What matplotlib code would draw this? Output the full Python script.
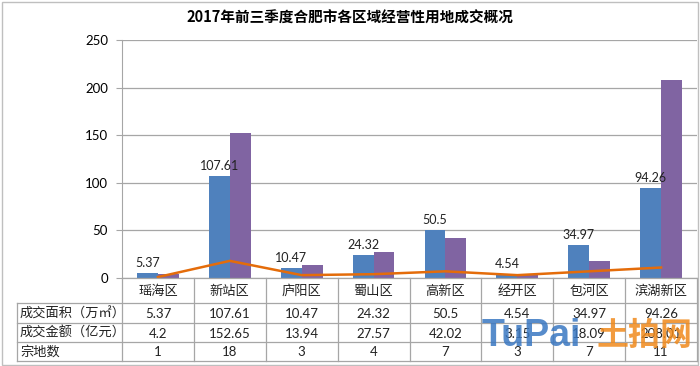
import matplotlib
matplotlib.use('Agg')
from matplotlib import pyplot as plt
from matplotlib.lines import Line2D
import numpy as np

# > chart data
districts = ['瑶海区', '新站区', '庐阳区', '蜀山区', '高新区', '经开区', '包河区', '滨湖新区']
area = [5.37, 107.61, 10.47, 24.32, 50.5, 4.54, 34.97, 94.26]
amount = [4.2, 152.65, 13.94, 27.57, 42.02, 3.15, 18.09, 208.01]
parcels = [1, 18, 3, 4, 7, 3, 7, 11]
row_names = ['成交面积（万㎡）', '成交金额（亿元）', '宗地数']
y_ticks = [0, 50, 100, 150, 200, 250]

title = '2017年前三季度合肥市各区域经营性用地成交概况'

plt.rcParams['font.family'] = ['Noto Sans CJK SC', 'DejaVu Sans']

W, H = 700, 366
fig = plt.figure(figsize=(W / 100, H / 100), dpi=100)


def px(x, y):
    # pixel position -> figure fraction
    return x / W, 1 - y / H


grid_c = '#a6a6a6'
left, right, top, bottom = 122, 697, 40, 278
ax = fig.add_axes([left / W, 1 - bottom / H, (right - left) / W, (bottom - top) / H])

x = np.arange(len(districts))
bw = 0.29
ax.bar(x - bw / 2, area, bw, color='#4f81bd', zorder=2)
ax.bar(x + bw / 2, amount, bw, color='#8064a2', zorder=2)
ax.plot(x, parcels, color='#e46c0a', linewidth=1.8, zorder=3)
for xi, v in zip(x, area):
    ax.text(xi - bw / 2, v + 4, f'{v:g}', ha='center', va='bottom',
            fontsize=9, family=['Lato', 'DejaVu Sans'], color='#222222')

ax.set_xlim(-0.5, len(districts) - 0.5)
ax.set_ylim(0, 250)
ax.set_yticks(y_ticks)
ax.set_yticklabels([str(t) for t in y_ticks], family=['Lato', 'DejaVu Sans'], fontsize=9.5)
ax.tick_params(axis='y', length=4, color=grid_c, pad=6)
ax.set_xticks([])
ax.grid(axis='y', color=grid_c, linewidth=0.9, zorder=0)
for s in ['top', 'right', 'bottom']:
    ax.spines[s].set_visible(False)
ax.spines['left'].set_color(grid_c)

# > data table drawn beneath the axis
row_lines = [278, 303, 323, 342, 361]
table_left = 17
cat_w = (right - left) / len(districts)


def hline(y, x0, x1):
    a, b = px(x0, y)
    c, d = px(x1, y)
    fig.add_artist(Line2D([a, c], [b, d], color=grid_c, linewidth=0.9))


def vline(xp, y0, y1):
    a, b = px(xp, y0)
    c, d = px(xp, y1)
    fig.add_artist(Line2D([a, c], [b, d], color=grid_c, linewidth=0.9))


hline(row_lines[0], left, right)
for y in row_lines[1:]:
    hline(y, table_left, right)
vline(table_left, row_lines[1], row_lines[-1])
for i in range(len(districts) + 1):
    vline(left + i * cat_w, row_lines[0], row_lines[-1])

for i, name in enumerate(districts):
    cx = left + (i + 0.5) * cat_w
    fx, fy = px(cx, (row_lines[0] + row_lines[1]) / 2 + 1)
    fig.text(fx, fy, name, ha='center', va='center', fontsize=9.5, color='#222222')

table_rows = [area, amount, parcels]
for r, (name, vals) in enumerate(zip(row_names, table_rows)):
    yc = (row_lines[r + 1] + row_lines[r + 2]) / 2 + 1
    fx, fy = px(table_left + 3, yc)
    fig.text(fx, fy, name, ha='left', va='center', fontsize=9.5, color='#222222')
    for i, v in enumerate(vals):
        fx, fy = px(left + (i + 0.5) * cat_w, yc)
        fig.text(fx, fy, f'{v:g}', ha='center', va='center', fontsize=9.5,
                 family=['Lato', 'DejaVu Sans'], color='#222222')

# > title
fx, fy = px(350, 18)
fig.text(fx, fy, title, ha='center', va='center', fontsize=10.5, fontweight='bold')

# > watermark
fx, fy = px(482, 336)
fig.text(fx, fy, 'TuPai', ha='left', va='center', fontsize=27, fontweight='bold',
         family=['Liberation Sans', 'DejaVu Sans'], color='#3a78c2', alpha=0.85)
fx, fy = px(596, 336)
fig.text(fx, fy, '土拍网', ha='left', va='center', fontsize=23, fontweight='bold',
         color='#f08a1c', alpha=0.85)

# > outer border
fig.add_artist(plt.Rectangle((1.5 / W, 1.5 / H), 1 - 3.5 / W, 1 - 3.5 / H, fill=False,
                             edgecolor='#bfbfbf', linewidth=1, transform=fig.transFigure))

fig.savefig('out.png', dpi=100)
